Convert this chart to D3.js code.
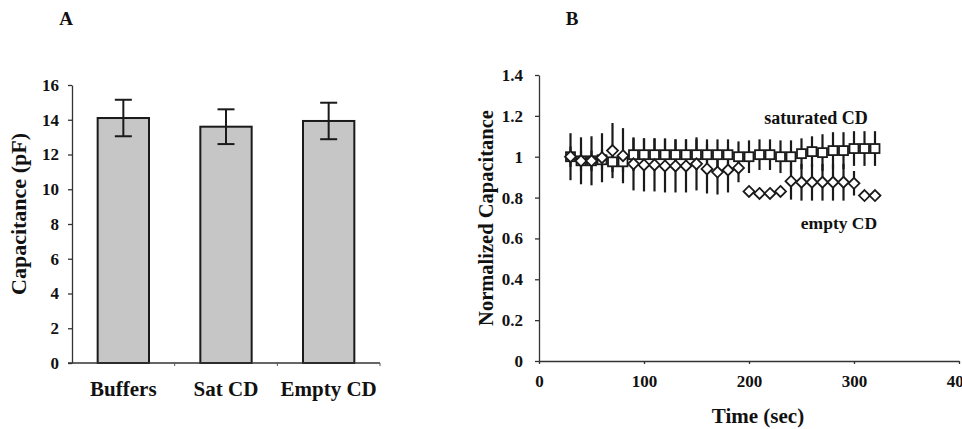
<!DOCTYPE html>
<html>
<head>
<meta charset="utf-8">
<script src="https://cdn.jsdelivr.net/npm/d3@7/dist/d3.min.js"></script>
<style>
  html, body { margin: 0; padding: 0; background: #fff; }
  svg { display: block; }
  text { font-family: "Liberation Serif", "Times New Roman", serif; font-weight: bold; fill: #111; }
</style>
</head>
<body>
<svg id="chart" width="962" height="429"></svg>
<script>
// ---------- Panel A data ----------
const categories = ["Buffers", "Sat CD", "Empty CD"];
const meansA = [14.1, 13.6, 13.93];
const errA = [1.05, 1.0, 1.05];
const yTicksA = [0, 2, 4, 6, 8, 10, 12, 14, 16];

// ---------- Panel B data ----------
const times = [30, 40, 50, 60, 70, 80, 90, 100, 110, 120, 130, 140, 150, 160, 170, 180, 190, 200, 210, 220, 230, 240, 250, 260, 270, 280, 290, 300, 310, 320];
const saturatedCD = [1.0, 0.98, 0.98, 0.985, 0.975, 0.975, 1.01, 1.01, 1.01, 1.01, 1.01, 1.01, 1.01, 1.01, 1.01, 1.01, 1.0, 1.0, 1.01, 1.01, 1.0, 1.0, 1.015, 1.025, 1.02, 1.03, 1.03, 1.04, 1.04, 1.04];
const saturatedErr = [0.05, 0.05, 0.05, 0.05, 0.05, 0.05, 0.08, 0.08, 0.08, 0.08, 0.075, 0.075, 0.075, 0.075, 0.075, 0.075, 0.075, 0.08, 0.075, 0.075, 0.08, 0.08, 0.075, 0.075, 0.09, 0.09, 0.09, 0.085, 0.085, 0.085];
const emptyCD = [1.0, 0.98, 0.98, 0.995, 1.03, 1.005, 0.965, 0.96, 0.96, 0.955, 0.955, 0.955, 0.965, 0.94, 0.925, 0.935, 0.945, 0.83, 0.82, 0.82, 0.83, 0.88, 0.875, 0.875, 0.875, 0.875, 0.875, 0.87, 0.81, 0.81];
const emptyErr = [0.115, 0.115, 0.12, 0.12, 0.135, 0.135, 0.13, 0.13, 0.13, 0.13, 0.13, 0.13, 0.13, 0.12, 0.11, 0.11, 0.07, 0.02, 0.02, 0.02, 0.02, 0.09, 0.09, 0.09, 0.09, 0.09, 0.09, 0.06, 0.02, 0.02];
const xTicksB = [0, 100, 200, 300, 400];
const yTicksB = [0, 0.2, 0.4, 0.6, 0.8, 1, 1.2, 1.4];

const svg = d3.select("#chart");
const ink = "#1a1a1a";
const tickFont = sel => sel.style("font-size", "17px").style("font-family", "Liberation Serif").style("font-weight", "bold");

// ================= Panel A =================
const xA = d3.scaleBand().domain(categories).range([72, 380]).paddingInner(0.5).paddingOuter(0.25);
const yA = d3.scaleLinear().domain([0, 16]).range([363, 85]);
const gA = svg.append("g");

const axYA = gA.append("g").attr("transform", "translate(72,0)")
  .call(d3.axisLeft(yA).tickValues(yTicksA).tickSize(4).tickSizeOuter(0).tickFormat(d3.format("d")));
axYA.selectAll("text").attr("x", -13).call(tickFont);
axYA.selectAll("line, path").attr("stroke", "#333").attr("stroke-width", 1.3);

// bars
gA.selectAll("rect.bar").data(categories).join("rect")
  .attr("x", d => xA(d)).attr("width", xA.bandwidth())
  .attr("y", (d, i) => yA(meansA[i])).attr("height", (d, i) => yA(0) - yA(meansA[i]))
  .attr("fill", "#c6c6c6").attr("stroke", ink).attr("stroke-width", 2);

// x axis A (line + boundary ticks)
gA.append("line").attr("x1", 68).attr("x2", 380).attr("y1", yA(0)).attr("y2", yA(0)).attr("stroke", "#333").attr("stroke-width", 1.5);
const step = xA.step();
gA.selectAll("line.bt").data(categories.slice(1)).join("line")
  .attr("x1", d => xA(d) - (step - xA.bandwidth()) / 2).attr("x2", d => xA(d) - (step - xA.bandwidth()) / 2)
  .attr("y1", yA(0)).attr("y2", yA(0) + 3).attr("stroke", "#555").attr("stroke-width", 1);
gA.append("line").attr("x1", 380).attr("x2", 380).attr("y1", yA(0)).attr("y2", yA(0) + 3).attr("stroke", "#555");

// error bars A
categories.forEach((c, i) => {
  const cx = xA(c) + xA.bandwidth() / 2;
  const t = yA(meansA[i] + errA[i]), b = yA(meansA[i] - errA[i]);
  gA.append("line").attr("x1", cx).attr("x2", cx).attr("y1", t).attr("y2", b).attr("stroke", ink).attr("stroke-width", 2);
  [t, b].forEach(y => gA.append("line").attr("x1", cx - 8.5).attr("x2", cx + 8.5).attr("y1", y).attr("y2", y).attr("stroke", ink).attr("stroke-width", 2));
});

// category labels
gA.selectAll("text.cat").data(categories).join("text")
  .attr("x", d => xA(d) + xA.bandwidth() / 2).attr("y", 396)
  .attr("text-anchor", "middle").style("font-size", "21px").text(d => d);

// y title A
gA.append("text").attr("transform", "translate(26,214) rotate(-90)").attr("text-anchor", "middle")
  .style("font-size", "22px").text("Capacitance (pF)");
// panel letter
gA.append("text").attr("x", 66).attr("y", 25).attr("text-anchor", "middle").style("font-size", "19px").text("A");

// ================= Panel B =================
const xB = d3.scaleLinear().domain([0, 400]).range([539, 959]);
const yB = d3.scaleLinear().domain([0, 1.4]).range([361, 75]);
const gB = svg.append("g");

const axYB = gB.append("g").attr("transform", "translate(539,0)")
  .call(d3.axisLeft(yB).tickValues(yTicksB).tickSize(4).tickSizeOuter(0).tickFormat(d => d3.format("")(+d.toFixed(1))));
axYB.selectAll("text").attr("x", -16).call(tickFont);
axYB.selectAll("line, path").attr("stroke", "#333").attr("stroke-width", 1.3);

const axXB = gB.append("g").attr("transform", "translate(0,361)")
  .call(d3.axisBottom(xB).tickValues(xTicksB).tickSize(3).tickSizeOuter(0));
axXB.selectAll("text").attr("y", 14).call(tickFont);
axXB.selectAll("line, path").attr("stroke", "#333").attr("stroke-width", 1.3);

// error bars B
const drawErr = (vals, errs) => {
  gB.append("g").selectAll("line").data(times).join("line")
    .attr("x1", d => xB(d)).attr("x2", d => xB(d))
    .attr("y1", (d, i) => yB(vals[i] + errs[i])).attr("y2", (d, i) => yB(vals[i] - errs[i]))
    .attr("stroke", ink).attr("stroke-width", 2.2);
};
drawErr(saturatedCD, saturatedErr);
drawErr(emptyCD, emptyErr);

// squares (saturated CD)
const sq = 9;
gB.append("g").selectAll("rect").data(times).join("rect")
  .attr("x", d => xB(d) - sq / 2).attr("y", (d, i) => yB(saturatedCD[i]) - sq / 2)
  .attr("width", sq).attr("height", sq)
  .attr("fill", "#fff").attr("stroke", ink).attr("stroke-width", 1.8);

// diamonds (empty CD)
const dm = 5.5;
gB.append("g").selectAll("path").data(times).join("path")
  .attr("d", (d, i) => {
    const x = xB(d), y = yB(emptyCD[i]);
    return `M${x},${y - dm}L${x + dm},${y}L${x},${y + dm}L${x - dm},${y}Z`;
  })
  .attr("fill", "#fff").attr("stroke", ink).attr("stroke-width", 1.8);

// series labels
gB.append("text").attr("x", 816).attr("y", 124).attr("text-anchor", "middle").style("font-size", "18px").text("saturated CD");
gB.append("text").attr("x", 839).attr("y", 229).attr("text-anchor", "middle").style("font-size", "17.5px").text("empty CD");

// titles
gB.append("text").attr("transform", "translate(493,218) rotate(-90)").attr("text-anchor", "middle")
  .style("font-size", "20.5px").text("Normalized Capacitance");
gB.append("text").attr("x", 758).attr("y", 423).attr("text-anchor", "middle").style("font-size", "21px").text("Time (sec)");
gB.append("text").attr("x", 572).attr("y", 25).attr("text-anchor", "middle").style("font-size", "19px").text("B");
</script>
</body>
</html>
